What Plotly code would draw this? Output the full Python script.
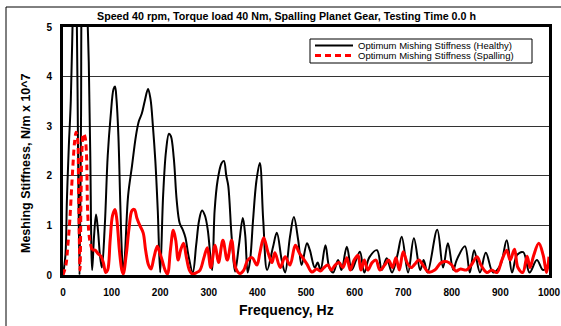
import plotly.graph_objects as go

# Frequency spectrum of optimum meshing stiffness (x 10^7 N/m)
healthy_freq = [0, 5, 8, 12, 16, 20, 24, 28, 31, 34, 37, 40, 45, 50, 53, 56, 60, 64, 68, 72, 76, 80,
                86, 92, 98, 104, 107, 110, 114, 118, 122, 125, 128, 134, 142, 150, 156, 162, 168, 175,
                180, 185, 190, 195, 200, 206, 212, 218, 222, 228, 234, 240, 247, 252, 258, 267, 274,
                280, 286, 292, 298, 304, 307, 312, 318, 326, 331, 336, 340, 347, 354, 362, 370, 375,
                380, 385, 391, 398, 405, 412, 420, 432, 440, 450, 457, 467, 475, 484, 491, 502, 508,
                518, 524, 530, 540, 548, 556, 566, 573, 584, 594, 603, 611, 620, 630, 646, 656, 666,
                677, 688, 697, 710, 722, 735, 742, 750, 770, 782, 792, 803, 810, 827, 837, 846, 858,
                870, 885, 900, 913, 924, 934, 947, 960, 975, 988, 1000]
healthy_val = [0, 0.4, 1.5, 2.6, 3.5, 5.2, 7.0, 5.5, 2.5, 0.0, 3.0, 6.5, 7.0, 5.3, 4.3, 2.5, 0.1, 0.8,
               1.22, 0.9, 0.4, 0.15, 1.0, 2.4, 3.2, 3.75, 3.8, 3.55, 2.8, 1.4, 0.3, 0.05, 0.5, 1.6,
               2.2, 2.8, 3.1, 3.25, 3.5, 3.75, 3.55, 3.0, 2.3, 1.3, 0.05, 1.6, 2.5, 2.85, 2.8, 2.35,
               1.5, 1.05, 0.9, 0.75, 0.4, 0.05, 0.6, 1.1, 1.3, 1.2, 0.9, 0.3, 0.1, 1.3, 1.9, 2.25,
               2.3, 2.0, 1.8, 0.77, 0.07, 0.6, 1.15, 0.8, 0.05, 0.3, 1.1, 1.9, 2.26, 1.1, 0.1, 0.56,
               0.85, 0.3, 0.05, 0.77, 1.17, 0.7, 0.2, 0.64, 0.5, 0.15, 0.25, 0.1, 0.6, 0.15, 0.05,
               0.3, 0.1, 0.57, 0.1, 0.3, 0.47, 0.05, 0.35, 0.5, 0.1, 0.34, 0.05, 0.4, 0.77, 0.05,
               0.74, 0.1, 0.3, 0.05, 0.91, 0.15, 0.64, 0.1, 0.3, 0.58, 0.05, 0.5, 0.05, 0.45, 0.05,
               0.2, 0.7, 0.05, 0.4, 0.46, 0.05, 0.3, 0.1, 0.25]

spall_freq = [0, 6, 10, 14, 18, 21, 24, 27, 30, 32, 35, 37, 39, 42, 45, 48, 51, 55, 60, 66, 72, 78,
              83, 88, 92, 97, 102, 107, 111, 116, 121, 124, 130, 136, 142, 147, 152, 158, 165, 170,
              176, 181, 187, 194, 199, 204, 210, 215, 221, 227, 232, 237, 242, 248, 254, 260, 266,
              275, 282, 290, 297, 304, 313, 320, 329, 338, 347, 355, 364, 372, 380, 389, 399, 405,
              413, 422, 430, 436, 447, 457, 467, 478, 486, 493, 502, 512, 522, 530, 537, 545, 552,
              560, 568, 576, 584, 591, 599, 607, 613, 620, 627, 636, 644, 652, 662, 670, 678, 685,
              692, 700, 708, 716, 724, 732, 742, 752, 765, 778, 790, 800, 808, 818, 830, 840, 852,
              860, 872, 882, 893, 903, 913, 920, 929, 936, 946, 955, 961, 968, 979, 988, 995, 1000]
spall_val = [0, 0.2, 0.6, 1.1, 1.8, 2.3, 2.7, 2.88, 2.75, 1.8, 0.1, 1.5, 2.5, 2.85, 2.8, 2.5, 1.2,
             0.7, 0.5, 0.5, 0.43, 0.38, 0.25, 0.05, 0.1, 0.7, 1.2, 1.32, 1.1, 0.5, 0.1, 0.02, 0.4,
             0.95, 1.3, 1.32, 1.15, 1.0, 0.85, 0.5, 0.2, 0.12, 0.35, 0.58, 0.45, 0.3, 0.1, 0.02,
             0.5, 0.9, 0.7, 0.3, 0.5, 0.64, 0.35, 0.1, 0.02, 0.05, 0.1, 0.35, 0.55, 0.15, 0.6,
             0.25, 0.7, 0.3, 0.7, 0.15, 0.03, 0.1, 0.3, 0.35, 0.2, 0.44, 0.75, 0.45, 0.25, 0.45,
             0.15, 0.37, 0.2, 0.6, 0.45, 0.35, 0.22, 0.06, 0.12, 0.08, 0.15, 0.2, 0.1, 0.2, 0.25,
             0.15, 0.35, 0.1, 0.3, 0.4, 0.1, 0.3, 0.1, 0.25, 0.3, 0.1, 0.2, 0.3, 0.15, 0.35, 0.1,
             0.47, 0.25, 0.15, 0.22, 0.3, 0.18, 0.06, 0.1, 0.25, 0.27, 0.2, 0.08, 0.12, 0.1, 0.2,
             0.37, 0.2, 0.05, 0.1, 0.05, 0.3, 0.5, 0.3, 0.52, 0.15, 0.05, 0.38, 0.15, 0.38, 0.64,
             0.4, 0.05, 0.37]

series_names = ["Optimum Mishing Stiffness (Healthy)", "Optimum Mishing Stiffness (Spalling)"]
x_ticks = [0, 100, 200, 300, 400, 500, 600, 700, 800, 900, 1000]
y_ticks = [0, 1, 2, 3, 4, 5]

FONT = "Arial, Liberation Sans, sans-serif"
RED = "#ff0000"
DASH = "6px,4px"

# plot area in pixels: left 63, right 549, top 27, bottom 275
L, R, T, B = 63, 549, 27, 275


def px(x, y):
    """Convert page pixels to paper coordinates of the plot area."""
    return (x - L) / (R - L), (B - y) / (B - T)


# the steep low-frequency part of the spalling curve is drawn dashed
split = spall_freq.index(60)

fig = go.Figure()
fig.add_trace(go.Scatter(
    x=healthy_freq, y=healthy_val, mode="lines", line_shape="spline",
    line=dict(color="black", width=2), name=series_names[0]))
fig.add_trace(go.Scatter(
    x=spall_freq[:split + 1], y=spall_val[:split + 1], mode="lines", line_shape="spline",
    line=dict(color=RED, width=3, dash=DASH), name=series_names[1]))
fig.add_trace(go.Scatter(
    x=spall_freq[split:], y=spall_val[split:], mode="lines", line_shape="spline",
    line=dict(color=RED, width=3), name=series_names[1]))

# compact boxed legend
bx0, by0 = px(310, 39)
bx1, by1 = px(532, 63)
lx0, _ = px(315, 0)
lx1, _ = px(353, 0)
tx, _ = px(356, 0)
_, row1 = px(0, 45.5)
_, row2 = px(0, 55.5)

shapes = [
    # outer chart frame
    dict(type="rect", xref="paper", yref="paper", x0=px(6, 0)[0], y0=-0.35, x1=1.2,
         y1=px(0, 7)[1], line=dict(color="black", width=1), layer="below"),
    dict(type="rect", xref="paper", yref="paper", x0=bx0, y0=by0, x1=bx1, y1=by1,
         fillcolor="white", line=dict(color="black", width=1), layer="above"),
    dict(type="line", xref="paper", yref="paper", x0=lx0, x1=lx1, y0=row1, y1=row1,
         line=dict(color="black", width=2)),
    dict(type="line", xref="paper", yref="paper", x0=lx0, x1=lx1, y0=row2, y1=row2,
         line=dict(color=RED, width=3, dash=DASH)),
]

annotations = [
    dict(text="<b>Speed 40 rpm, Torque load 40 Nm, Spalling Planet Gear, Testing Time 0.0 h</b>",
         xref="paper", yref="paper", x=px(286, 0)[0], y=px(0, 16)[1],
         xanchor="center", yanchor="middle", showarrow=False,
         font=dict(size=10.7, family=FONT)),
    dict(text="<b>Frequency, Hz</b>", xref="paper", yref="paper",
         x=px(286, 0)[0], y=px(0, 310)[1], xanchor="center", yanchor="middle",
         showarrow=False, font=dict(size=14, family=FONT)),
    dict(text="<b>Meshing Stiffness, N/m x 10^7</b>", xref="paper", yref="paper",
         x=px(26, 0)[0], y=px(0, 163)[1], xanchor="center", yanchor="middle",
         textangle=-90, showarrow=False, font=dict(size=12.5, family=FONT)),
    dict(text=series_names[0], xref="paper", yref="paper", x=tx, y=row1,
         xanchor="left", yanchor="middle", showarrow=False,
         font=dict(size=9.5, family=FONT)),
    dict(text=series_names[1], xref="paper", yref="paper", x=tx, y=row2,
         xanchor="left", yanchor="middle", showarrow=False,
         font=dict(size=9.5, family=FONT)),
]

fig.update_layout(
    width=561, height=326,
    margin=dict(l=L, r=561 - R, t=T, b=326 - B, autoexpand=False),
    paper_bgcolor="white", plot_bgcolor="white",
    font=dict(family=FONT, color="black"),
    showlegend=False,
    shapes=shapes,
    annotations=annotations,
)

fig.update_xaxes(
    range=[0, 1000], tickvals=x_ticks, ticktext=[f"<b>{t}</b>" for t in x_ticks],
    tickfont=dict(size=10, family=FONT), showgrid=False, zeroline=False,
    showline=True, linecolor="black", linewidth=3, mirror=True,
    ticks="", ticklabelstandoff=6, automargin=False)
fig.update_yaxes(
    range=[0, 5], tickvals=y_ticks, ticktext=[f"<b>{t}</b>" for t in y_ticks],
    tickfont=dict(size=10, family=FONT), showgrid=True, gridcolor="#333", gridwidth=1,
    zeroline=False, showline=True, linecolor="black", linewidth=3, mirror=True,
    ticks="", ticklabelstandoff=6, automargin=False)

fig.write_html("out.html")
